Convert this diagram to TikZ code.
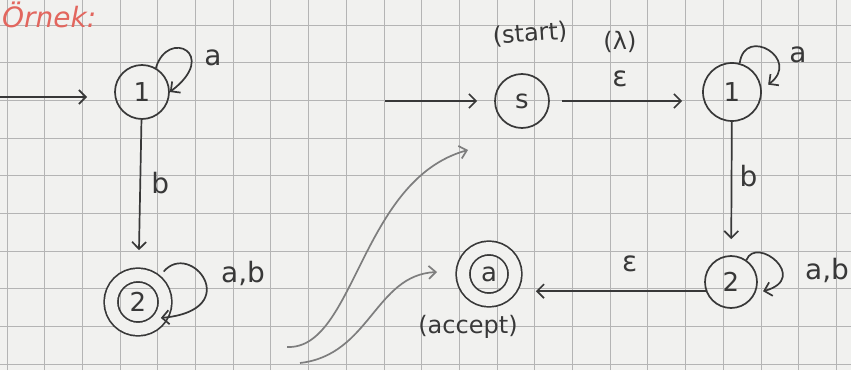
\documentclass[tikz,border=0pt]{standalone}
\usepackage{fontspec}
\setmainfont{DejaVu Sans}
\usepackage{xcolor}
\usepackage{tikz}
\usetikzlibrary{arrows.meta,positioning,calc}
\definecolor{Ink}{HTML}{383838}
\definecolor{Pencil}{HTML}{7E7E7E}
\definecolor{Paper}{HTML}{F1F1EF}
\definecolor{GridGray}{HTML}{B4B4B4}
\definecolor{Marker}{HTML}{E2665E}
\tikzset{
  st/.style={draw=Ink,circle,line width=1.7pt,minimum size=54pt,inner sep=0pt,
             text=Ink,font=\fontsize{26}{28}\selectfont},
  accst/.style={st,double=Paper,double distance=12pt},
  flow/.style={-{Straight Barb[length=7pt,width=14pt]},line width=1.7pt,draw=Ink},
  pencil/.style={-{Straight Barb[length=7pt,width=13pt]},line width=1.7pt,draw=Pencil},
  lab/.style={text=Ink,font=\fontsize{28}{30}\selectfont},
  note/.style={text=Ink,font=\fontsize{24}{26}\selectfont},
  heading/.style={text=Marker,font=\fontsize{28}{30}\selectfont\itshape,inner sep=1pt},
  gridline/.style={draw=GridGray,line width=0.9pt}
}
\begin{document}
\begin{tikzpicture}[x=1pt,y=1pt]
  \fill[Paper] (0,0) rectangle (851,370);
  \useasboundingbox (0,0) rectangle (851,370);
  \foreach \i in {0,...,22} \draw[gridline] ({7+37.7*\i},0) -- ({7+37.7*\i},370);
  \foreach \j in {0,...,9} \draw[gridline] (0,{345-37.7*\j}) -- (851,{345-37.7*\j});
  \node[heading,anchor=north west] (title) at (1,369) {Örnek:};

  \node[st] (l1) at (142,278) {1};
  \node[accst] (l2) at (138,68) {2};
  \coordinate (lin) at (0,273);

  \node[st] (s) at (522,269) {s};
  \node[st,minimum size=58pt] (r1) at (732,278) {1};
  \node[st,minimum size=52pt] (r2) at (731,88) {2};
  \node[accst,minimum size=52pt] (acc) at (489,96) {a};
  \coordinate (rin) at (385,269);
  \node[note,rotate=4] (startlbl) at (530,336) {(start)};
  \node[note] (acclbl) at (468,43) {(accept)};

  \coordinate (p1a) at (287,23);
  \coordinate (p1b) at (468,220);
  \coordinate (p2a) at (300,7);
  \coordinate (p2b) at (437,98);

  \draw[flow,shorten >=27pt] (lin) -- (lin -| l1.west);
  \draw[flow] (l1.60) .. controls +(12,40) and +(50,38) .. (l1.east);
  \draw[flow,shorten >=24pt] (l1) -- node[lab,pos=0.41,right=7pt] (lb1) {b} (l2);
  \draw[flow,shorten <=12pt] (l2.50) .. controls +(35,41) and +(85,8) .. (l2.-35);
  \node[lab] (la1) at (213,312) {a};
  \node[lab] (lab2) at (243,97) {a,b};

  \draw[flow,shorten >=17pt] (rin) -- (s);
  \draw[flow,shorten <=12pt,shorten >=20pt] (s) -- node[lab,pos=0.46,above=10pt] (e1) {ε} (s -| r1.west);
  \node[note,above=10pt of e1] (lam) {(λ)};
  \draw[flow,shorten >=8pt] (r1.75) .. controls +(5,38) and +(40,30) .. (r1.5);
  \draw[flow,shorten >=16pt] (r1) -- node[lab,pos=0.41,right=4pt] (lb2) {b} (r2);
  \draw[flow,shorten >=8pt] (r2.55) .. controls +(10,25) and +(55,15) .. (r2.-25);
  \draw[flow,shorten >=20pt] (r2.200) -- node[lab,pos=0.4,above=15pt] (e2) {ε} (acc.east |- r2.200);
  \node[lab] (ra1) at (798,315) {a};
  \node[lab] (rab2) at (827,100) {a,b};

  \draw[pencil] (p1a) .. controls (355,20) and (360,190) .. (p1b);
  \draw[pencil] (p2a) .. controls (370,15) and (375,95) .. (p2b);
\end{tikzpicture}
\end{document}
